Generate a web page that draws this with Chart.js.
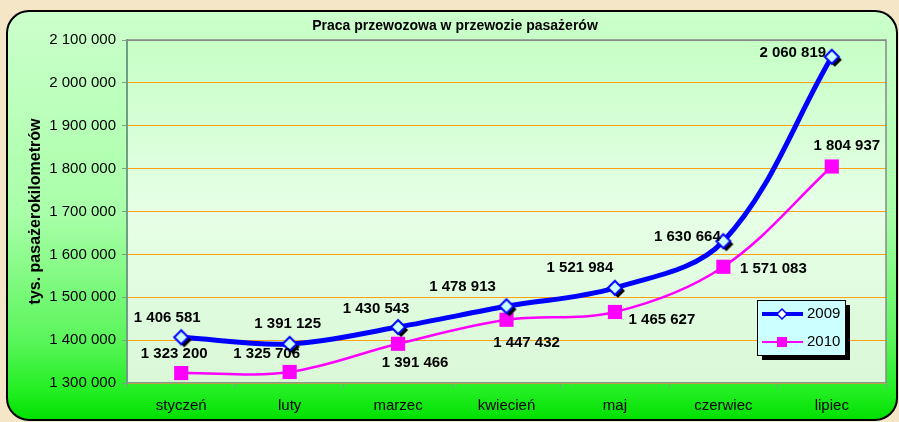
<!DOCTYPE html>
<html>
<head>
<meta charset="utf-8">
<script src="https://cdn.jsdelivr.net/npm/chart.js@4.4.0/dist/chart.umd.min.js"></script>
<style>
  html, body { margin: 0; padding: 0; background: #f5e6c8; }
  #wrap { width: 899px; height: 422px; }
</style>
</head>
<body>
<div id="wrap"><canvas id="chart1" width="899" height="422"></canvas></div>
<script>
// data
var months = ["styczeń", "luty", "marzec", "kwiecień", "maj", "czerwiec", "lipiec"];
var values2009 = [1406581, 1391125, 1430543, 1478913, 1521984, 1630664, 2060819];
var values2010 = [1323200, 1325706, 1391466, 1447432, 1465627, 1571083, 1804937];
var yMin = 1300000;
var yMax = 2100000;
var yStep = 100000;

var chartTitle = "Praca przewozowa w przewozie pasażerów";
var yTitle = "tys. pasażerokilometrów";

function fmt(v) {
  return String(v).replace(/\B(?=(\d{3})+(?!\d))/g, " ");
}

// diamond marker with a black shadow (2009)
var diamond = document.createElement("canvas");
diamond.width = 26;
diamond.height = 26;
(function () {
  var c = diamond.getContext("2d");
  function path(cx, cy, r) {
    c.beginPath();
    c.moveTo(cx, cy - r);
    c.lineTo(cx + r, cy);
    c.lineTo(cx, cy + r);
    c.lineTo(cx - r, cy);
    c.closePath();
  }
  path(16, 16, 7);
  c.fillStyle = "#000";
  c.fill();
  path(13, 13, 7);
  c.fillStyle = "#ccffff";
  c.fill();
  c.lineWidth = 2;
  c.strokeStyle = "#0000ff";
  c.stroke();
})();

// label offsets (dx, dy) from each point
var labelOffsets = [
  [[-14, -19], [-2, -20], [-22, -18], [-44, -19], [-35, -20], [-36, -4], [-39, -4]],
  [[-7, -19], [-23, -18], [17, 19], [20, 23], [47, 8], [50, 2], [15, -21]],
];

var backgroundPlugin = {
  id: "panel",
  beforeDraw: function (chart) {
    var ctx = chart.ctx;
    var a = chart.chartArea;
    ctx.save();
    ctx.fillStyle = "#f5e6c8";
    ctx.fillRect(0, 0, chart.width, chart.height);

    ctx.beginPath();
    ctx.roundRect(7, 11, 890, 409, 22);
    var g = ctx.createLinearGradient(0, 11, 0, 420);
    g.addColorStop(0, "#ccffcc");
    g.addColorStop(0.5, "#a8ffa8");
    g.addColorStop(0.8, "#5cf55c");
    g.addColorStop(0.93, "#22ee22");
    g.addColorStop(1, "#00e000");
    ctx.fillStyle = g;
    ctx.fill();
    ctx.lineWidth = 2;
    ctx.strokeStyle = "#000";
    ctx.stroke();

    var pg = ctx.createLinearGradient(0, a.top, 0, a.bottom);
    pg.addColorStop(0, "#c6ffc6");
    pg.addColorStop(0.5, "#e6ffe6");
    pg.addColorStop(1, "#daf8d8");
    ctx.fillStyle = pg;
    ctx.fillRect(a.left, a.top, a.right - a.left, a.bottom - a.top);

    ctx.fillStyle = "#000";
    ctx.font = "bold 14px 'Liberation Sans', Arial, sans-serif";
    ctx.textAlign = "center";
    ctx.textBaseline = "middle";
    ctx.fillText(chartTitle, 455, 26);
    ctx.restore();
  },
  beforeDatasetsDraw: function (chart) {
    var ctx = chart.ctx;
    var a = chart.chartArea;
    ctx.save();
    ctx.strokeStyle = "#888888";
    ctx.lineWidth = 1.5;
    ctx.beginPath();
    ctx.moveTo(a.left, a.top);
    ctx.lineTo(a.right, a.top);
    ctx.lineTo(a.right, a.bottom);
    ctx.stroke();
    ctx.restore();
  },
};

var labelPlugin = {
  id: "valueLabels",
  afterDatasetsDraw: function (chart) {
    var ctx = chart.ctx;
    ctx.save();
    ctx.fillStyle = "#000";
    ctx.font = "bold 15px 'Liberation Sans', Arial, sans-serif";
    ctx.textAlign = "center";
    ctx.textBaseline = "middle";
    chart.data.datasets.forEach(function (ds, i) {
      var meta = chart.getDatasetMeta(i);
      meta.data.forEach(function (pt, j) {
        var off = labelOffsets[i][j];
        ctx.fillText(fmt(ds.data[j]), pt.x + off[0], pt.y + off[1]);
      });
    });
    ctx.restore();
  },
};

var legendPlugin = {
  id: "boxLegend",
  afterDraw: function (chart) {
    var ctx = chart.ctx;
    var x = 757, y = 300, w = 88, h = 55;
    ctx.save();
    ctx.fillStyle = "#000";
    ctx.fillRect(x + 5, y + 5, w, h);
    ctx.fillStyle = "#ccffff";
    ctx.fillRect(x, y, w, h);
    ctx.strokeStyle = "#000";
    ctx.lineWidth = 1;
    ctx.strokeRect(x + 0.5, y + 0.5, w, h);

    // 2009
    ctx.strokeStyle = "#0000ff";
    ctx.lineWidth = 4;
    ctx.beginPath();
    ctx.moveTo(x + 5, y + 14);
    ctx.lineTo(x + 46, y + 14);
    ctx.stroke();
    ctx.beginPath();
    ctx.moveTo(x + 25, y + 9);
    ctx.lineTo(x + 30, y + 14);
    ctx.lineTo(x + 25, y + 19);
    ctx.lineTo(x + 20, y + 14);
    ctx.closePath();
    ctx.fillStyle = "#ffffff";
    ctx.fill();
    ctx.lineWidth = 1.5;
    ctx.stroke();

    // 2010
    ctx.strokeStyle = "#ff00ff";
    ctx.lineWidth = 2;
    ctx.beginPath();
    ctx.moveTo(x + 5, y + 42);
    ctx.lineTo(x + 46, y + 42);
    ctx.stroke();
    ctx.fillStyle = "#ff00ff";
    ctx.fillRect(x + 20, y + 37, 10, 10);

    ctx.fillStyle = "#000";
    ctx.font = "15px 'Liberation Sans', Arial, sans-serif";
    ctx.textAlign = "left";
    ctx.textBaseline = "middle";
    ctx.fillText(chart.data.datasets[0].label, x + 50, y + 14);
    ctx.fillText(chart.data.datasets[1].label, x + 50, y + 42);
    ctx.restore();
  },
};

var ctx = document.getElementById("chart1").getContext("2d");

var myChart = new Chart(ctx, {
  type: "line",
  data: {
    labels: months,
    datasets: [
      {
        label: "2009",
        data: values2009,
        borderColor: "#0000ff",
        borderWidth: 5,
        pointStyle: diamond,
        pointRadius: 7,
        tension: 0.35,
        fill: false,
      },
      {
        label: "2010",
        data: values2010,
        borderColor: "#ff00ff",
        backgroundColor: "#ff00ff",
        borderWidth: 2.5,
        pointStyle: "rect",
        pointRadius: 10,
        pointBorderWidth: 0,
        pointBackgroundColor: "#ff00ff",
        tension: 0.35,
        fill: false,
      },
    ],
  },
  options: {
    responsive: false,
    animation: false,
    events: [],
    layout: {
      padding: { top: 40, right: 13, bottom: 0, left: 0 },
    },
    plugins: {
      legend: { display: false },
      title: { display: false },
      tooltip: { enabled: false },
    },
    scales: {
      x: {
        offset: true,
        afterFit: function (scale) {
          scale.height = 39;
        },
        grid: {
          offset: true,
          drawOnChartArea: false,
          drawTicks: true,
          tickLength: 5,
          tickColor: "#7f9f8a",
        },
        border: { color: "#7f9f8a", width: 1.5 },
        ticks: {
          color: "#000",
          padding: 9,
          maxRotation: 0,
          font: { family: "'Liberation Sans', Arial, sans-serif", size: 15 },
        },
      },
      y: {
        min: yMin,
        max: yMax,
        afterFit: function (scale) {
          scale.width = 127;
        },
        grid: {
          color: function (c) {
            return c.tick && c.tick.value === yMax ? "#888888" : "#fca311";
          },
          lineWidth: 1,
          tickLength: 5,
          tickColor: "#7f9f8a",
        },
        border: { color: "#6e9e84", width: 2 },
        ticks: {
          stepSize: yStep,
          color: "#000",
          padding: 6,
          font: { family: "'Liberation Sans', Arial, sans-serif", size: 15 },
          callback: function (v) {
            return fmt(v);
          },
        },
        title: {
          display: true,
          text: yTitle,
          color: "#000",
          padding: { top: 26, bottom: 0 },
          font: { family: "'Liberation Sans', Arial, sans-serif", size: 16, weight: "bold" },
        },
      },
    },
  },
  plugins: [backgroundPlugin, labelPlugin, legendPlugin],
});
</script>
</body>
</html>
